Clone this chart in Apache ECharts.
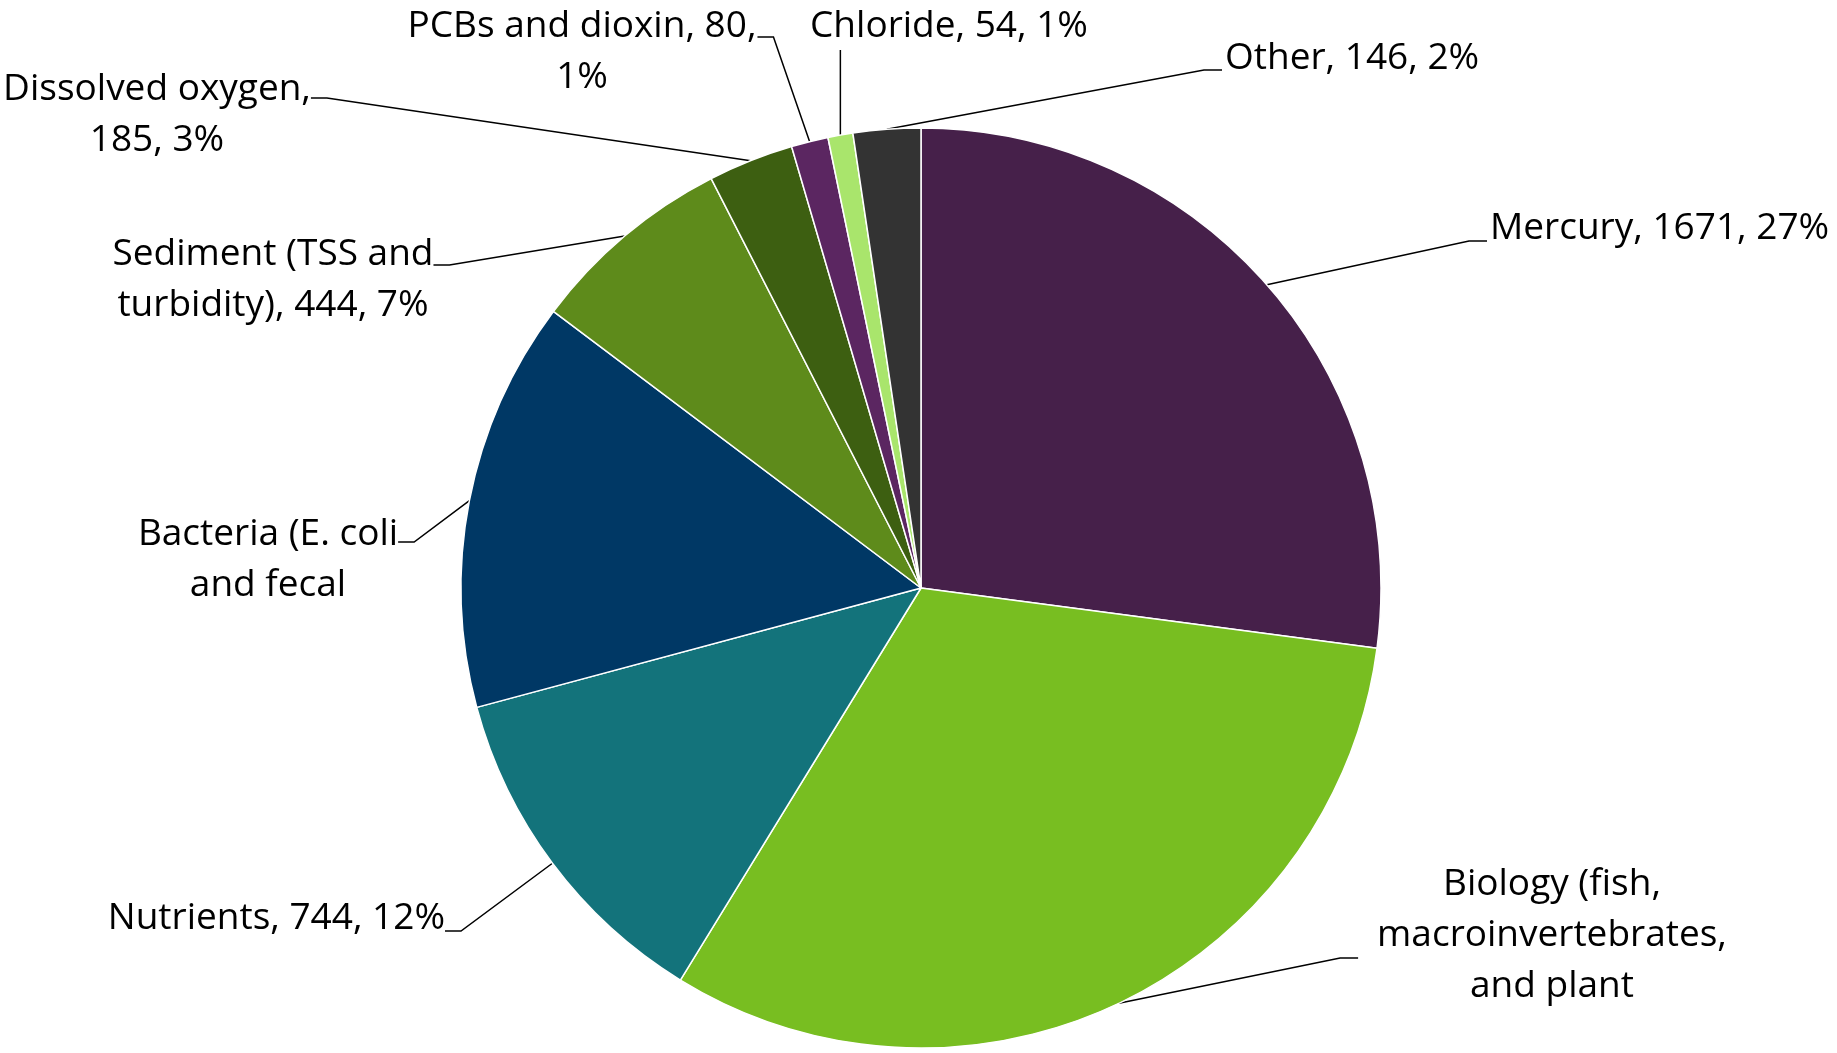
<!DOCTYPE html>
<html>
<head>
<meta charset="utf-8">
<script src="https://cdn.jsdelivr.net/npm/echarts@6/dist/echarts.min.js"></script>
<style>
html,body{margin:0;padding:0;background:#fff;}
#chart{width:1837px;height:1053px;}
</style>
</head>
<body>
<div id="chart"></div>
<script>
// ---- data ----
const categories = [
  'Mercury',
  'Biology (fish, macroinvertebrates, and plant',
  'Nutrients',
  'Bacteria (E. coli and fecal',
  'Sediment (TSS and turbidity)',
  'Dissolved oxygen',
  'PCBs and dioxin',
  'Chloride',
  'Other'
];
const values = [1671, 1954, 744, 891, 444, 185, 80, 54, 146];
// label templates ({c} = value, {d} = rounded percent)
const labelTemplates = [
  'Mercury, {c}, {d}%',
  'Biology (fish,\nmacroinvertebrates,\nand plant',
  'Nutrients, {c}, {d}%',
  'Bacteria (E. coli\nand fecal',
  'Sediment (TSS and\nturbidity), {c}, {d}%',
  'Dissolved oxygen,\n{c}, {d}%',
  'PCBs and dioxin, {c},\n{d}%',
  'Chloride, {c}, {d}%',
  'Other, {c}, {d}%'
];
const colors = ['#46204A', '#78BE21', '#13737B', '#003865', '#5E8B1B', '#3D5F11', '#5B2661', '#A9E56C', '#333333'];

// ---- layout (label placement) ----
const CX = 921, CY = 588, R = 460, LH = 51;
const labelPos = [
  {x: 1490, y: 203, align: 'left',   side: 'left',   ay: 38, gap: 3},
  {x: 1552, y: 859, align: 'center', side: 'left',   ay: 99, gap: 19},
  {x: 445,  y: 893, align: 'right',  side: 'right',  ay: 38, gap: 0},
  {x: 268,  y: 509, align: 'center', side: 'right',  ay: 33, gap: 0},
  {x: 273,  y: 229, align: 'center', side: 'right',  ay: 36, gap: 0},
  {x: 157,  y: 64,  align: 'center', side: 'right',  ay: 34, gap: 0},
  {x: 582,  y: 1,   align: 'center', side: 'right',  ay: 36, gap: 1},
  {x: 949,  y: 1,   align: 'center', side: 'bottom', ay: 49, gap: 0},
  {x: 1225, y: 33,  align: 'left',   side: 'left',   ay: 37, gap: 3}
];

const total = values.reduce((a, b) => a + b, 0);
const midAngles = [];
(function () {
  let cum = 0;
  values.forEach(v => { midAngles.push((cum + v / 2) / total * 2 * Math.PI); cum += v; });
})();

const chart = echarts.init(document.getElementById('chart'), null, {renderer: 'canvas'});
chart.setOption({
  backgroundColor: '#ffffff',
  animation: false,
  series: [{
    type: 'pie',
    center: [CX, CY],
    radius: R,
    startAngle: 90,
    clockwise: true,
    avoidLabelOverlap: false,
    data: categories.map((n, i) => ({name: n, value: values[i], itemStyle: {color: colors[i]}})),
    itemStyle: {borderColor: '#ffffff', borderWidth: 1.5},
    emphasis: {disabled: true},
    label: {
      show: true,
      position: 'outside',
      fontFamily: 'Open Sans',
      fontSize: 37,
      lineHeight: LH,
      color: '#000000',
      formatter: p => labelTemplates[p.dataIndex]
        .replace('{c}', p.value)
        .replace('{d}', Math.round(p.value / total * 100))
    },
    labelLine: {show: true, length: 20, length2: 20, lineStyle: {color: '#000000', width: 1.5}},
    labelLayout: function (params) {
      const i = params.dataIndex;
      const pos = labelPos[i];
      const w = params.labelRect.width;
      let left = pos.align === 'left' ? pos.x : pos.align === 'right' ? pos.x - w : pos.x - w / 2;
      const top = pos.y;
      const a = midAngles[i];
      const p0 = [CX + R * Math.sin(a), CY - R * Math.cos(a)];
      let pts;
      if (pos.side === 'left') {
        const ex = left - pos.gap, ey = top + pos.ay;
        pts = [p0, [ex - 18, ey], [ex, ey]];
      } else if (pos.side === 'right') {
        const ex = left + w + pos.gap, ey = top + pos.ay;
        pts = [p0, [ex + 16, ey], [ex, ey]];
      } else {
        pts = [p0, [p0[0], top + pos.ay]];
      }
      return {
        x: pos.x,
        y: pos.y,
        align: pos.align,
        verticalAlign: 'top',
        labelLinePoints: pts
      };
    }
  }]
});
</script>
</body>
</html>
